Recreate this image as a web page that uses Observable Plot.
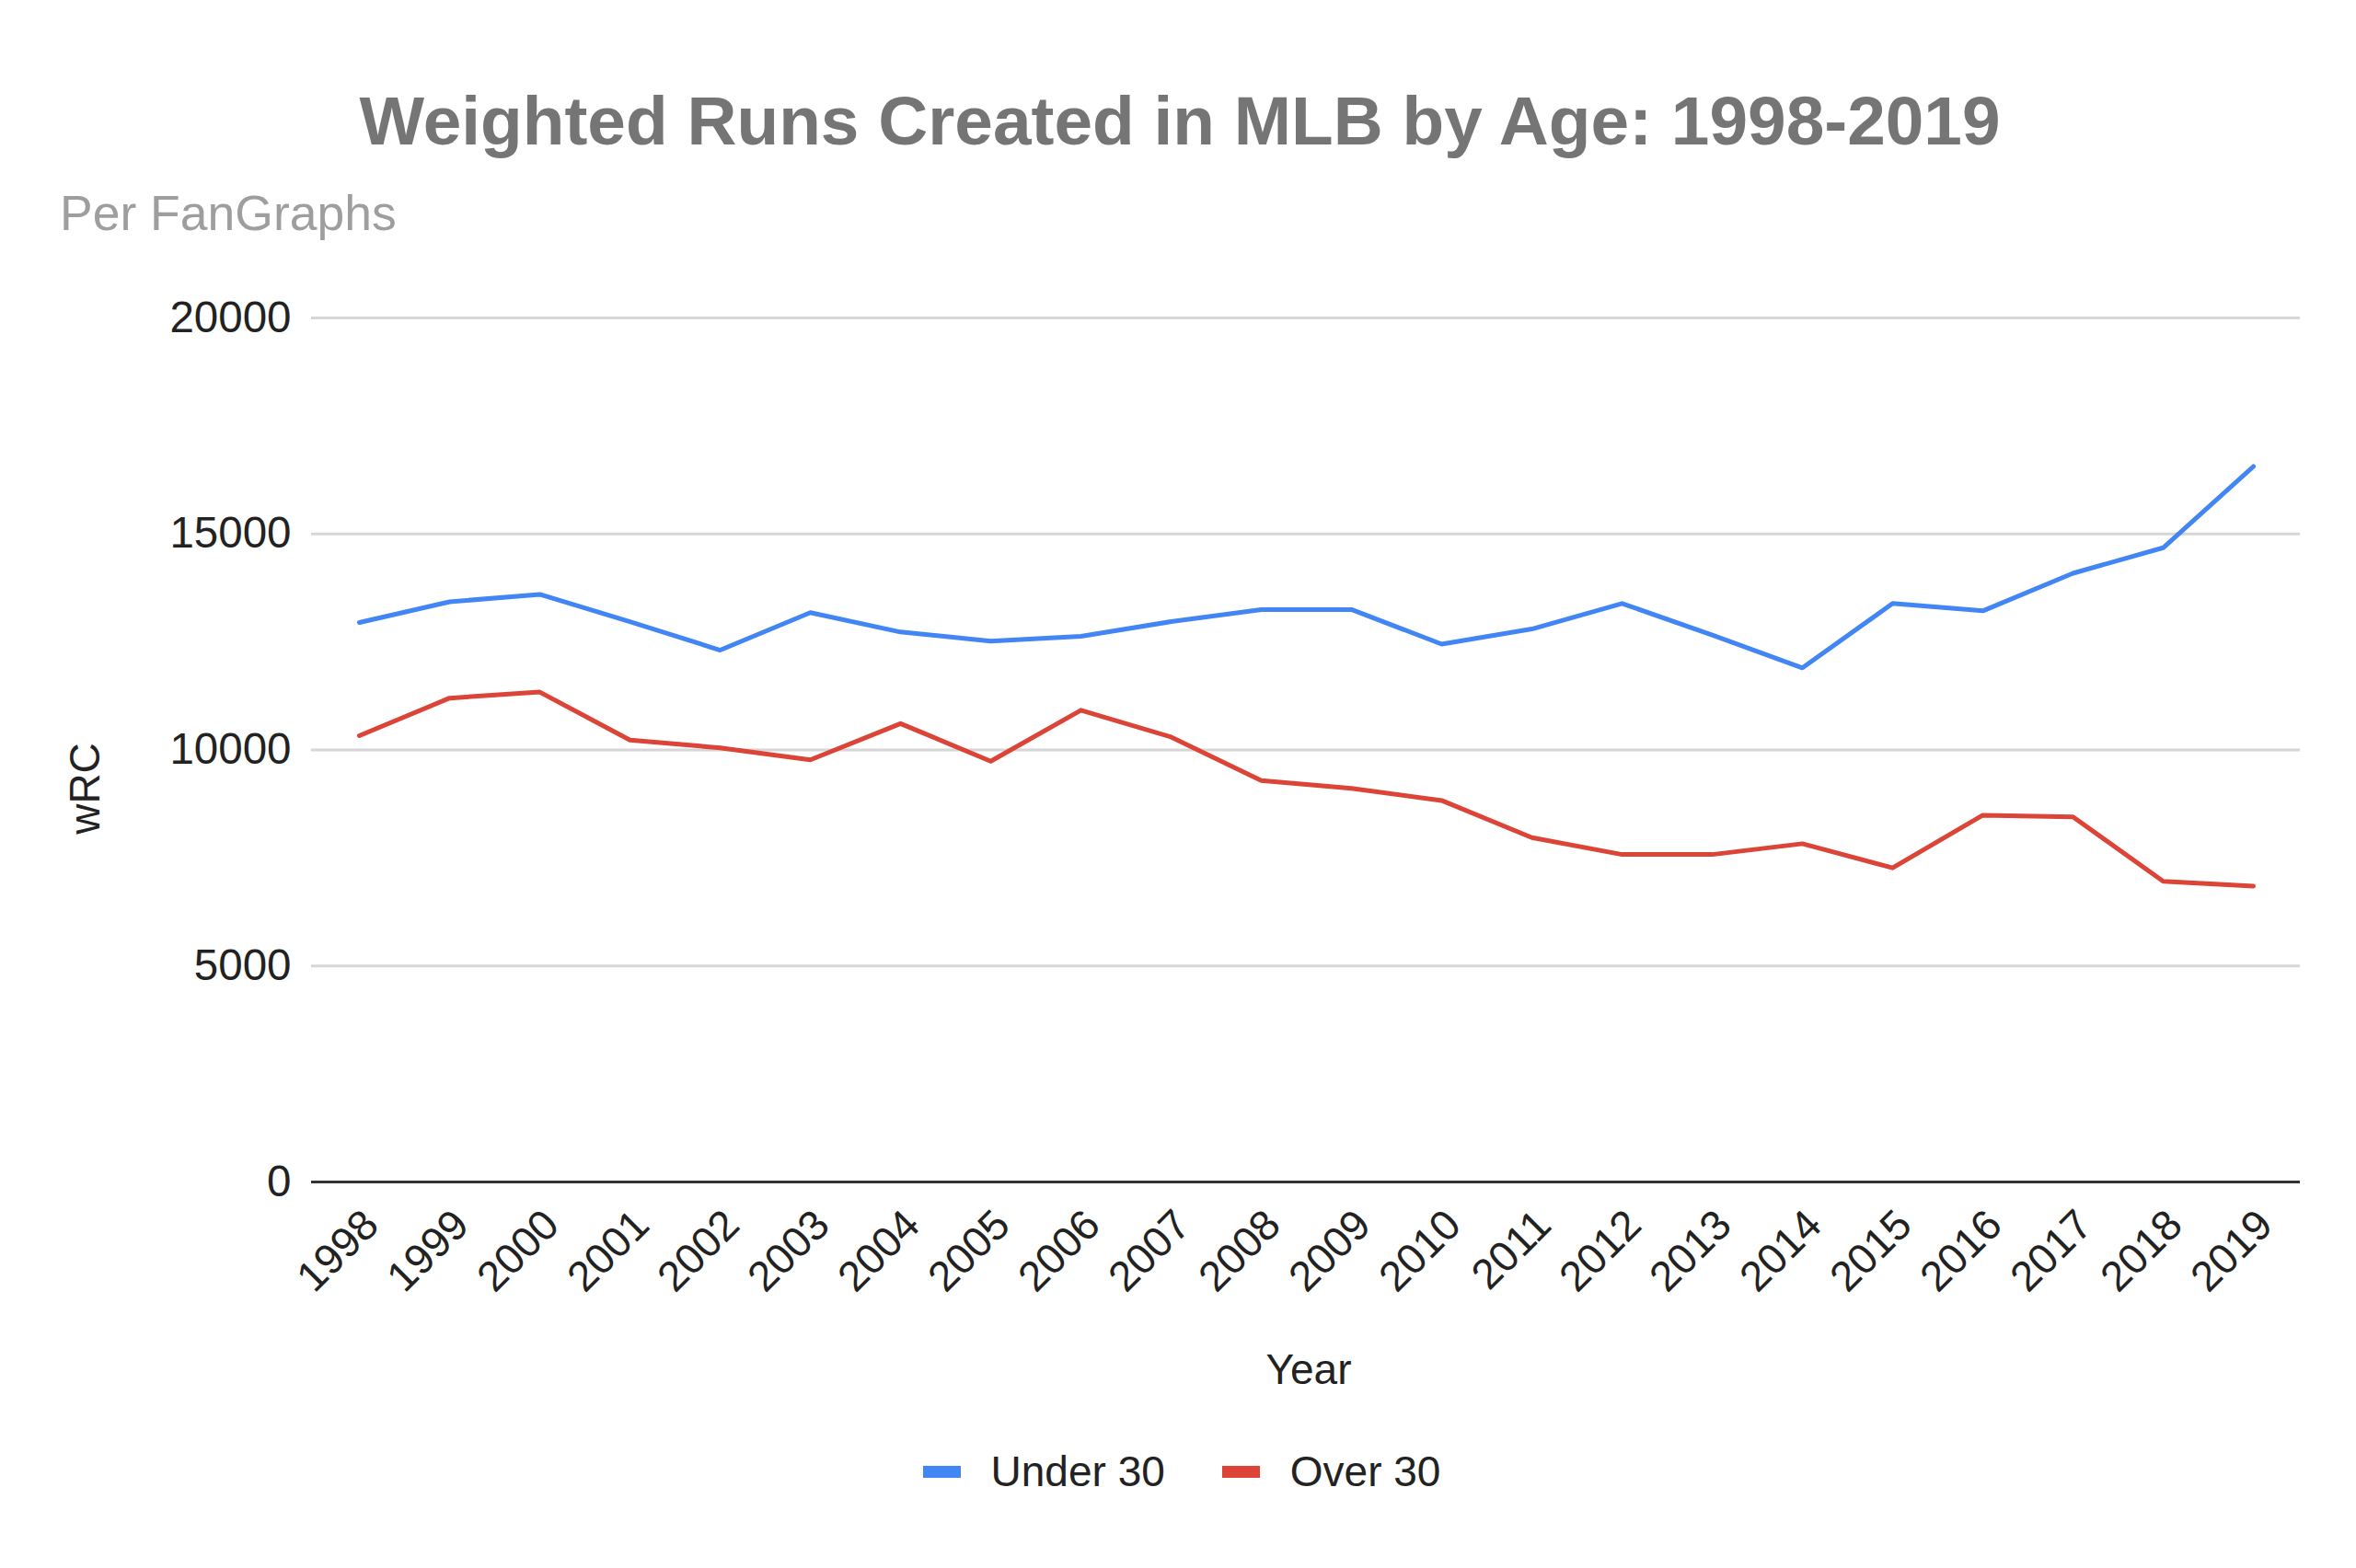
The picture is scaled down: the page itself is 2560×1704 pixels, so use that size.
<!DOCTYPE html>
<html>
<head>
<meta charset="utf-8">
<script src="https://cdn.jsdelivr.net/npm/d3@7"></script>
<script src="https://cdn.jsdelivr.net/npm/@observablehq/plot@0.6"></script>
<style>
  body { margin: 0; background: #fff; font-family: "Liberation Sans", Arial, sans-serif; }
  #wrap { width: 2560px; height: 1704px; position: relative; overflow: hidden; background: #fff; }
  #header { position: relative; height: 280px; }
  #title { position: absolute; left: 2px; width: 2560px; top: 94px; text-align: center;
           font-size: 74.8px; line-height: 75px; font-weight: bold; color: #757575; white-space: nowrap; }
  #subtitle { position: absolute; left: 65px; top: 205px; font-size: 53.5px; line-height: 53.5px; color: #9e9e9e; white-space: nowrap; }
  #chart svg { display: block; }
  #legend { display: flex; justify-content: center; align-items: center; padding-left: 8px;
            margin-top: 41px; height: 56px; font-size: 46px; color: #222; }
  .item { display: flex; align-items: center; }
  .item + .item { margin-left: 62px; }
  .sw { width: 41px; height: 13px; margin-right: 33px; }
</style>
</head>
<body>
<div id="wrap">
  <div id="header">
    <div id="title">Weighted Runs Created in MLB by Age: 1998-2019</div>
    <div id="subtitle">Per FanGraphs</div>
  </div>
  <div id="chart"></div>
  <div id="legend"></div>
</div>
<script>
const years = [1998, 1999, 2000, 2001, 2002, 2003, 2004, 2005, 2006, 2007, 2008,
               2009, 2010, 2011, 2012, 2013, 2014, 2015, 2016, 2017, 2018, 2019];
const under30 = [12950, 13430, 13600, 12970, 12310, 13180, 12730, 12520, 12630, 12970, 13250,
                 13250, 12450, 12800, 13390, 12660, 11900, 13390, 13220, 14090, 14680, 16560];
const over30 = [10330, 11200, 11340, 10230, 10050, 9770, 10610, 9740, 10920, 10300, 9290,
                9110, 8830, 7970, 7580, 7580, 7830, 7270, 8490, 8450, 6960, 6850];
const seriesNames = ["Under 30", "Over 30"];
const seriesColors = ["#4285F4", "#DB4437"];
const yTicks = [0, 5000, 10000, 15000, 20000];

const data = [];
years.forEach((yr, i) => {
  data.push({year: yr, value: under30[i], series: seriesNames[0]});
  data.push({year: yr, value: over30[i], series: seriesNames[1]});
});

const chart = Plot.plot({
  width: 2560,
  height: 1250,
  marginTop: 65,
  marginBottom: 246,
  marginLeft: 338,
  marginRight: 61,
  style: {fontFamily: "'Liberation Sans', Arial, sans-serif", background: "#fff"},
  x: {type: "point", domain: years, padding: 0.5},
  y: {domain: [0, 20000]},
  color: {domain: seriesNames, range: seriesColors},
  marks: [
    Plot.ruleY(yTicks.filter(d => d > 0), {stroke: "#d6d6d6", strokeWidth: 3}),
    Plot.axisY({ticks: yTicks, tickSize: 0, tickPadding: 22, fontSize: 47.5, label: null,
                tickFormat: d => String(d), color: "#222"}),
    Plot.axisX({tickRotate: -45, tickSize: 0, tickPadding: 39, dx: 13, fontSize: 46, label: null,
                tickFormat: d => String(d), color: "#222"}),
    Plot.ruleY([0], {stroke: "#333", strokeWidth: 3}),
    Plot.line(data, {x: "year", y: "value", z: "series", stroke: "series", strokeWidth: 5,
                     strokeLinejoin: "round", strokeLinecap: "round"}),
    Plot.text(["wRC"], {frameAnchor: "left", textAnchor: "middle", lineAnchor: "middle",
                        rotate: -90, dx: -245, dy: 42, fontSize: 46, fill: "#222"}),
    Plot.text(["Year"], {frameAnchor: "bottom", textAnchor: "middle", lineAnchor: "middle",
                         dx: 3, dy: 205, fontSize: 46, fill: "#222"})
  ]
});
document.getElementById("chart").appendChild(chart);

const legend = document.getElementById("legend");
seriesNames.forEach((name, i) => {
  const item = document.createElement("div");
  item.className = "item";
  const sw = document.createElement("div");
  sw.className = "sw";
  sw.style.background = seriesColors[i];
  const label = document.createElement("span");
  label.textContent = name;
  item.appendChild(sw);
  item.appendChild(label);
  legend.appendChild(item);
});
</script>
</body>
</html>
